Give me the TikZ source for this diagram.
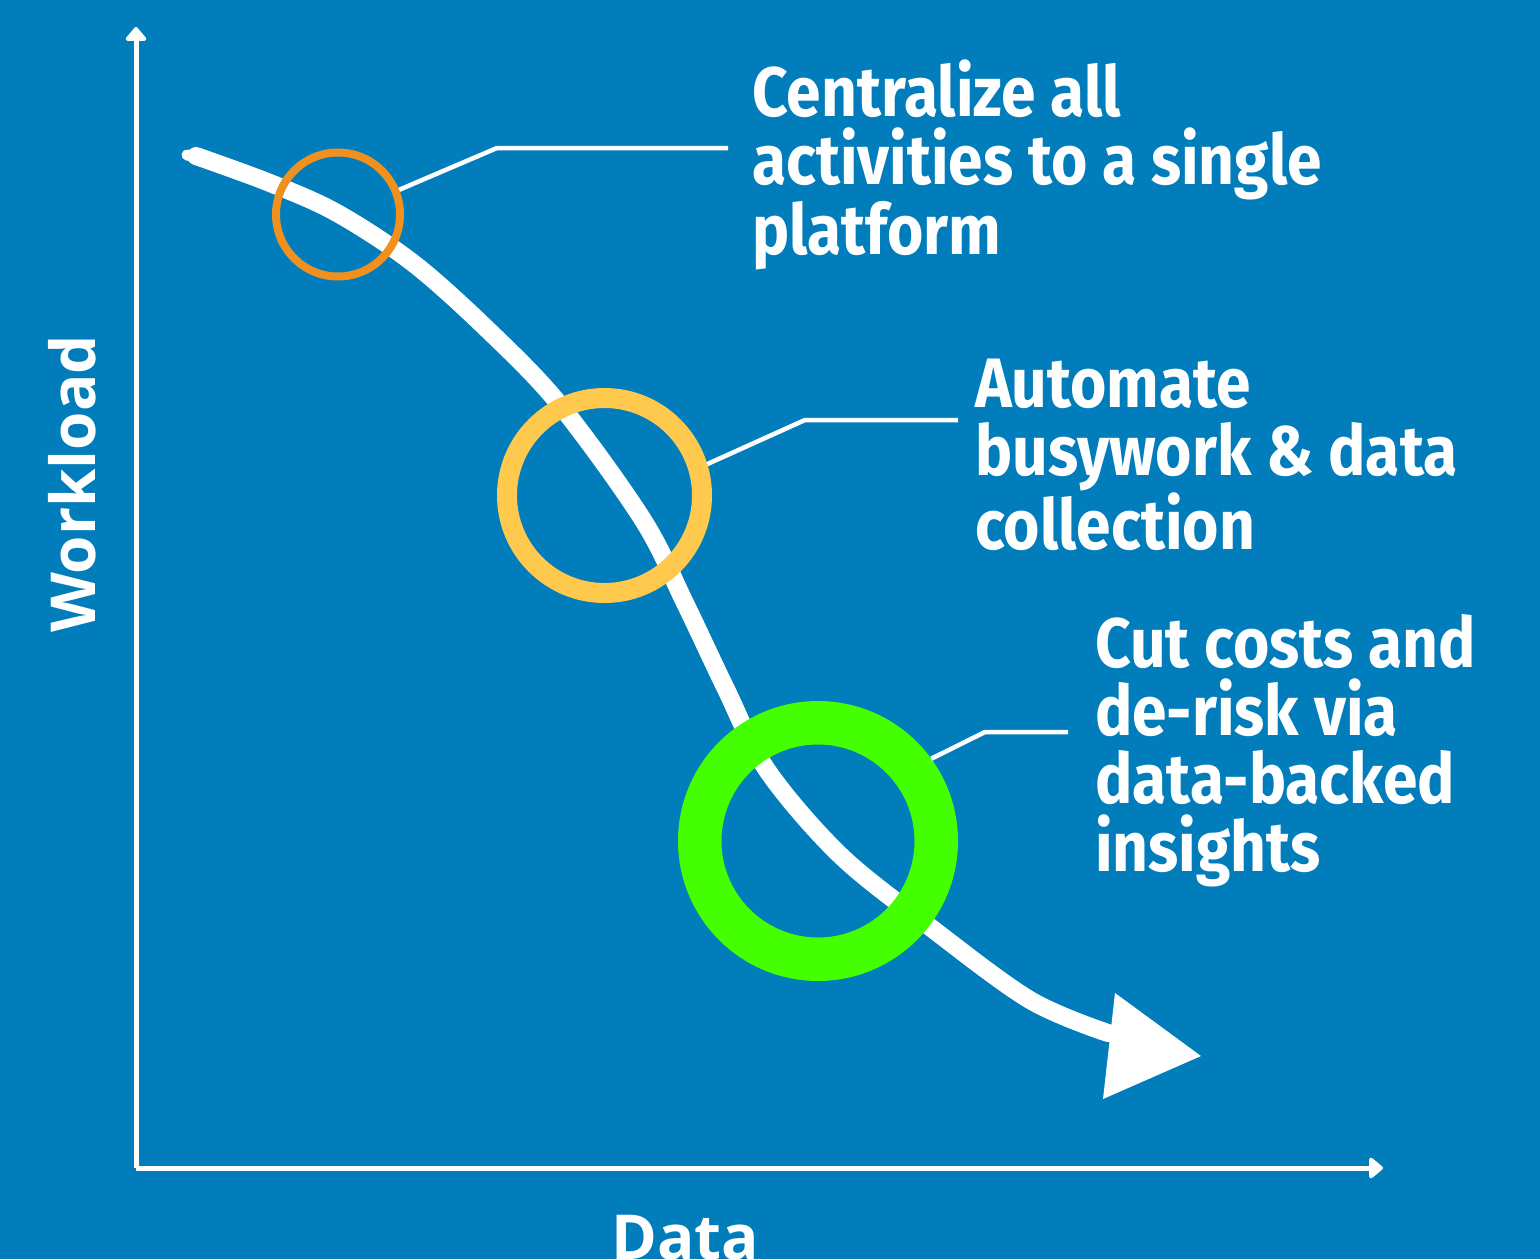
\documentclass[tikz,border=0pt]{standalone}
\usepackage{fontspec}
\usetikzlibrary{arrows.meta}
\newfontfamily\calloutfont[FakeStretch=0.89]{Fira Sans}
\newfontfamily\axisfont{Open Sans}
\definecolor{bgblue}{HTML}{007DBA}
\definecolor{ringorange}{HTML}{F0901F}
\definecolor{ringyellow}{HTML}{FFC94D}
\definecolor{ringgreen}{HTML}{44FF00}
\begin{document}
\begin{tikzpicture}[x=1pt,y=-1pt,
  axisline/.style={draw=white,line width=5pt,-{Triangle[length=15pt,width=24pt,round]}},
  ring/.style={circle,draw,inner sep=0pt,fill=none},
  leader/.style={draw=white,line width=4.5pt},
  callout/.style={text=white,align=left,inner sep=0pt,anchor=base west,
    font=\calloutfont\bfseries\fontsize{70}{68}\selectfont},
  axislabel/.style={text=white,inner sep=0pt,font=\axisfont\bfseries\fontsize{62}{62}\selectfont}]
\fill[bgblue] (0,0) rectangle (1540,1259);
\useasboundingbox (0,0) rectangle (1540,1259);
% axes
\coordinate (origin) at (136,1168);
\coordinate (ytop) at (136,27);
\coordinate (xend) at (1383,1168);
\draw[axisline] (origin) -- (ytop);
\draw[axisline] (origin) -- (xend);
% brush curve
\draw[white,line width=18pt,line cap=round,line join=round]
  plot[smooth,tension=0.55] coordinates {(196,156) (270,183) (337,213) (413,263) (488,330) (560,405) (643,520) (685,603) (725,687) (767,770) (840,855) (930,927) (1030,1000) (1108,1033)};
\draw[white,line width=11pt,line cap=round] (187,155) -- (215,161);
% arrowhead
\coordinate (ah1) at (1115,993);
\coordinate (ah2) at (1201,1056);
\coordinate (ah3) at (1103,1099);
\fill[white] (ah1) -- (ah2) -- (ah3) -- cycle;
% rings
\node[ring,draw=ringorange,line width=8pt,minimum size=124pt] (oc) at (338,214.5) {};
\node[ring,draw=ringyellow,line width=20pt,minimum size=195pt] (yc) at (604.5,495.5) {};
\node[ring,draw=ringgreen,line width=43.5pt,minimum size=236.5pt] (gc) at (818,841) {};
% callouts (base anchor = baseline of last line)
\node[callout] (t1) at (752,254) {Centralize all\\activities to a single\\platform};
\node[callout] (t2) at (975,549) {Automate\\busywork \& data\\collection};
\node[callout] (t3) at (1095,871) {Cut costs and\\de-risk via\\data-backed\\insights};
% leaders
\coordinate (e1) at (497,148);
\coordinate (f1) at (728,148);
\coordinate (e2) at (805,420);
\coordinate (f2) at (958,420);
\coordinate (e3) at (985,732);
\coordinate (f3) at (1068,732);
\draw[leader] (oc.22) -- (e1) -- (f1);
\draw[leader] (yc.17) -- (e2) -- (f2);
\draw[leader] (gc.36) -- (e3) -- (f3);
% axis labels
\node[axislabel,anchor=base,rotate=90] (wl) at (95,484) {Workload};
\node[axislabel,anchor=base] (dl) at (685,1259) {Data};
\end{tikzpicture}
\end{document}
